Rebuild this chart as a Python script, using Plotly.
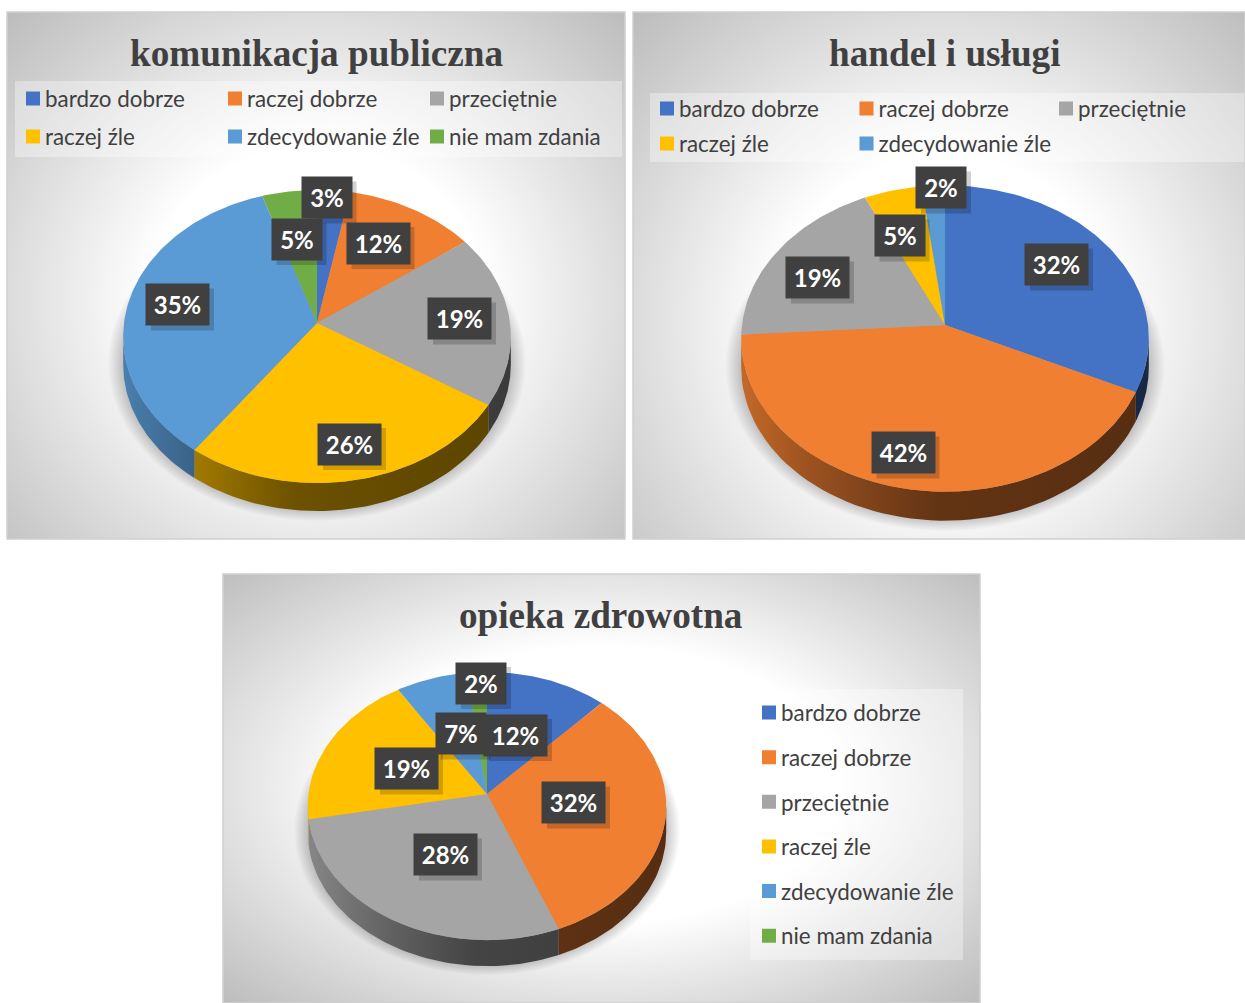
import numpy as np
import plotly.graph_objects as go

# ---- data ----
categories = ["bardzo dobrze", "raczej dobrze", "przeciętnie", "raczej źle", "zdecydowanie źle", "nie mam zdania"]
titles = ["komunikacja publiczna", "handel i usługi", "opieka zdrowotna"]
values_komunikacja = [3, 12, 19, 26, 35, 5]
values_handel = [32, 42, 19, 5, 2]
values_opieka = [12, 32, 28, 19, 7, 2]
colors = ["#4472c4", "#f07f32", "#a5a5a5", "#ffc000", "#5b9bd5", "#70ad47"]

# ---- layout (pixels of the 1245x1003 page) ----
W, H = 1245, 1003
panels = [
    dict(box=(7, 12, 625, 539), apex=(317, 323), A=193, B=145.3, k=0.092, depth=28, title_xy=(316, 53),
         grad=(317, 300), white=0.38, values=values_komunikacja,
         legend_bg=(15, 81, 622, 157),
         labels=[(326.5, 197.5), (378, 243), (459.5, 318.5), (349.5, 444), (177.5, 304.5), (296.5, 239)]),
    dict(box=(633, 12, 1245, 539), apex=(945, 325), A=203, B=152, k=0.088, depth=29, title_xy=(945, 53),
         grad=(945, 320), white=0.38, values=values_handel,
         legend_bg=(650, 93, 1245, 162),
         labels=[(1056.5, 264.5), (903, 452.5), (817.5, 277.5), (899.5, 235.5), (941, 187.5)]),
    dict(box=(223, 574, 980, 1003), apex=(487, 794), A=178.5, B=133, k=0.09, depth=26, title_xy=(601, 615),
         grad=(600, 785), white=0.45, values=values_opieka,
         legend_bg=(750, 689, 963, 960),
         labels=[(515.5, 735), (573.5, 802.5), (445.5, 854.5), (406.5, 768.5), (460.5, 733.5), (481, 683)]),
]
legend_rows = [
    dict(x=5, y=99, step=202, items=[0, 1, 2]),
    dict(x=5, y=137, step=202, items=[3, 4, 5]),
    dict(x=639, y=109, step=199.5, items=[0, 1, 2]),
    dict(x=639, y=144, step=0, items=[3]),
    dict(x=838.5, y=144, step=0, items=[4]),
]
LEGEND_FONT = dict(family="Lato, Open Sans, sans-serif", size=22.4, color="#404040")


def rim(p, theta, dy=0.0):
    """Perspective projection of a point on the pie's rim (theta clockwise from top)."""
    w = 1 + p["k"] * np.cos(theta)
    x = p["apex"][0] + p["A"] * np.sin(theta) / w
    y = p["apex"][1] - p["B"] * np.cos(theta) / w + dy
    return x, y


def dark(color, f):
    r, g, b = int(color[1:3], 16), int(color[3:5], 16), int(color[5:7], 16)
    return f"rgb({int(r*f)},{int(g*f)},{int(b*f)})"


def shade(t):
    return np.interp(t, [0, 0.2, 0.45, 1.0], [0.82, 0.62, 0.42, 0.36])


fig = go.Figure()
layout_axes = {}
annotations, shapes = [], []

for i, p in enumerate(panels):
    sfx = "" if i == 0 else str(i + 1)
    xr, yr = f"x{sfx}", f"y{sfx}"
    x0, y0, x1, y1 = p["box"]
    layout_axes[f"xaxis{sfx}"] = dict(domain=[x0 / W, x1 / W], range=[x0, x1], visible=False, fixedrange=True,
                                      anchor=yr)
    layout_axes[f"yaxis{sfx}"] = dict(domain=[1 - y1 / H, 1 - y0 / H], range=[y1, y0], visible=False,
                                      fixedrange=True, anchor=xr)
    common = dict(xaxis=xr, yaxis=yr, showlegend=False, hoverinfo="skip")

    # panel background: radial gradient, extended beyond the panel so the corners are the darkest
    gx, gy = p["grad"]
    Rx = 1.41 * max(gx - x0, x1 - gx)
    Ry = 1.41 * max(gy - y0, y1 - gy)
    fig.add_trace(go.Scatter(x=[gx - Rx, gx + Rx, gx + Rx, gx - Rx, gx - Rx],
                             y=[gy - Ry, gy - Ry, gy + Ry, gy + Ry, gy - Ry],
                             mode="lines", line=dict(width=0), fill="toself",
                             fillgradient=dict(type="radial",
                                               colorscale=[[0, "#ffffff"], [p["white"], "#ffffff"], [1, "#bcbcbc"]]),
                             **common))
    shapes.append(dict(type="rect", xref=f"{xr} domain", yref=f"{yr} domain", x0=0, x1=1, y0=0, y1=1,
                       line=dict(color="#d0d0d0", width=1.5), fillcolor="rgba(0,0,0,0)"))
    # legend backdrop
    lx0, ly0, lx1, ly1 = p["legend_bg"]
    fig.add_trace(go.Scatter(x=[lx0, lx1, lx1, lx0, lx0], y=[ly0, ly0, ly1, ly1, ly0], mode="lines",
                             line=dict(width=0), fill="toself", fillcolor="rgba(255,255,255,0.35)", **common))

    # soft floor shadow under the pie
    t = np.linspace(0, 2 * np.pi, 181)
    sx, sy = rim(p, t, dy=p["depth"] - 2)
    cx, cy = sx.mean(), sy.mean()
    sx = cx + (sx - cx) * 1.08
    sy = cy + (sy - cy) * 1.08
    fig.add_trace(go.Scatter(x=sx, y=sy, mode="lines", line=dict(width=0), fill="toself",
                             fillgradient=dict(type="radial", colorscale=[[0, "rgba(0,0,0,0.35)"], [0.88, "rgba(0,0,0,0.35)"],
                                                                          [1, "rgba(0,0,0,0)"]]),
                             **common))

    vals = np.array(p["values"], dtype=float)
    edges = np.concatenate([[0], np.cumsum(vals) / vals.sum()]) * 2 * np.pi
    vis0, vis1 = np.arccos(-p["k"]), 2 * np.pi - np.arccos(-p["k"])
    xmin, xmax = p["apex"][0] - p["A"] * 1.005, p["apex"][0] + p["A"] * 1.005

    # side walls
    for j, v in enumerate(vals):
        a, b = max(edges[j], vis0), min(edges[j + 1], vis1)
        if b <= a:
            continue
        th = np.linspace(a, b, 60)
        tx, ty = rim(p, th)
        bx, by = rim(p, th[::-1], dy=p["depth"])
        wx, wy = np.concatenate([tx, bx, tx[:1]]), np.concatenate([ty, by, ty[:1]])
        wl, wr = wx.min(), wx.max()
        stops = np.linspace(0, 1, 7)
        scale = [[float(s), dark(colors[j], float(shade((wl + s * (wr - wl) - xmin) / (xmax - xmin))))] for s in stops]
        fig.add_trace(go.Scatter(x=wx, y=wy, mode="lines", line=dict(width=0), fill="toself",
                                 fillgradient=dict(type="horizontal", colorscale=scale), **common))

    # top faces of the slices
    for j, v in enumerate(vals):
        th = np.linspace(edges[j], edges[j + 1], max(8, int(v * 3)))
        tx, ty = rim(p, th)
        fig.add_trace(go.Scatter(x=np.concatenate([[p["apex"][0]], tx, [p["apex"][0]]]),
                                 y=np.concatenate([[p["apex"][1]], ty, [p["apex"][1]]]),
                                 mode="lines", line=dict(width=0), fill="toself", fillcolor=colors[j],
                                 name=categories[j], xaxis=xr, yaxis=yr, showlegend=False,
                                 hoveron="fills", hoverinfo="text", text=f"{categories[j]}: {int(v)}%"))

    # data labels
    for j, v in enumerate(vals):
        lx, ly = p["labels"][j]
        bw = 63 if v >= 10 else 50
        shapes.append(dict(type="rect", xref=xr, yref=yr, x0=lx - bw / 2 + 5, x1=lx + bw / 2 + 5, y0=ly - 16, y1=ly + 26,
                           line_width=0, fillcolor="rgba(0,0,0,0.18)"))
        annotations.append(dict(xref=xr, yref=yr, x=lx, y=ly, text=f"<b>{int(v)}%</b>", showarrow=False,
                                width=bw, height=41, bgcolor="#404040", borderpad=0, xanchor="center",
                                yanchor="middle", font=dict(family="Lato, Open Sans, sans-serif", size=24, color="#ffffff")))

    # title
    tx, ty = p["title_xy"]
    annotations.append(dict(xref=xr, yref=yr, x=tx, y=ty, text=f"<b>{titles[i]}</b>", showarrow=False,
                            xanchor="center", yanchor="middle",
                            font=dict(family="Liberation Serif, serif", size=37.2, color="#404040")))

# ---- legends: real plotly legends, one for each row of the two top panels, one for the bottom panel ----
legend_layout = {}
for n, row in enumerate(legend_rows):
    name = "legend" if n == 0 else f"legend{n + 1}"
    legend_layout[name] = dict(orientation="h", x=row["x"] / W, y=1 - row["y"] / H, xanchor="left", yanchor="middle",
                               bgcolor="rgba(0,0,0,0)", font=LEGEND_FONT, entrywidthmode="pixels",
                               entrywidth=max(row["step"] - 45, 0), traceorder="normal", itemclick=False,
                               itemdoubleclick=False)
    for j in row["items"]:
        fig.add_trace(go.Scatter(x=[None], y=[None], mode="markers", name=categories[j], legend=name,
                                 marker=dict(symbol="square", size=14, color=colors[j]), hoverinfo="skip",
                                 showlegend=True))
name = f"legend{len(legend_rows) + 1}"
legend_layout[name] = dict(orientation="v", x=741 / W, y=1 - 824.5 / H, xanchor="left", yanchor="middle",
                           bgcolor="rgba(0,0,0,0)", font=LEGEND_FONT, tracegroupgap=12.5, itemclick=False,
                           itemdoubleclick=False)
for j in range(6):
    fig.add_trace(go.Scatter(x=[None], y=[None], mode="markers", name=categories[j], legend=name,
                             legendgroup=f"g{j}", marker=dict(symbol="square", size=14, color=colors[j]),
                             hoverinfo="skip", showlegend=True))

fig.update_layout(width=W, height=H, margin=dict(l=0, r=0, t=0, b=0, autoexpand=False), paper_bgcolor="#ffffff",
                  plot_bgcolor="rgba(0,0,0,0)", annotations=annotations, shapes=shapes, **layout_axes, **legend_layout)

post = """
document.body.style.margin='0';document.body.style.overflow='hidden';
document.querySelectorAll('.legendsymbols').forEach(function(g){g.setAttribute('transform','translate(8,0)');});
"""
fig.write_html("out.html", post_script=post, config=dict(displayModeBar=False))
